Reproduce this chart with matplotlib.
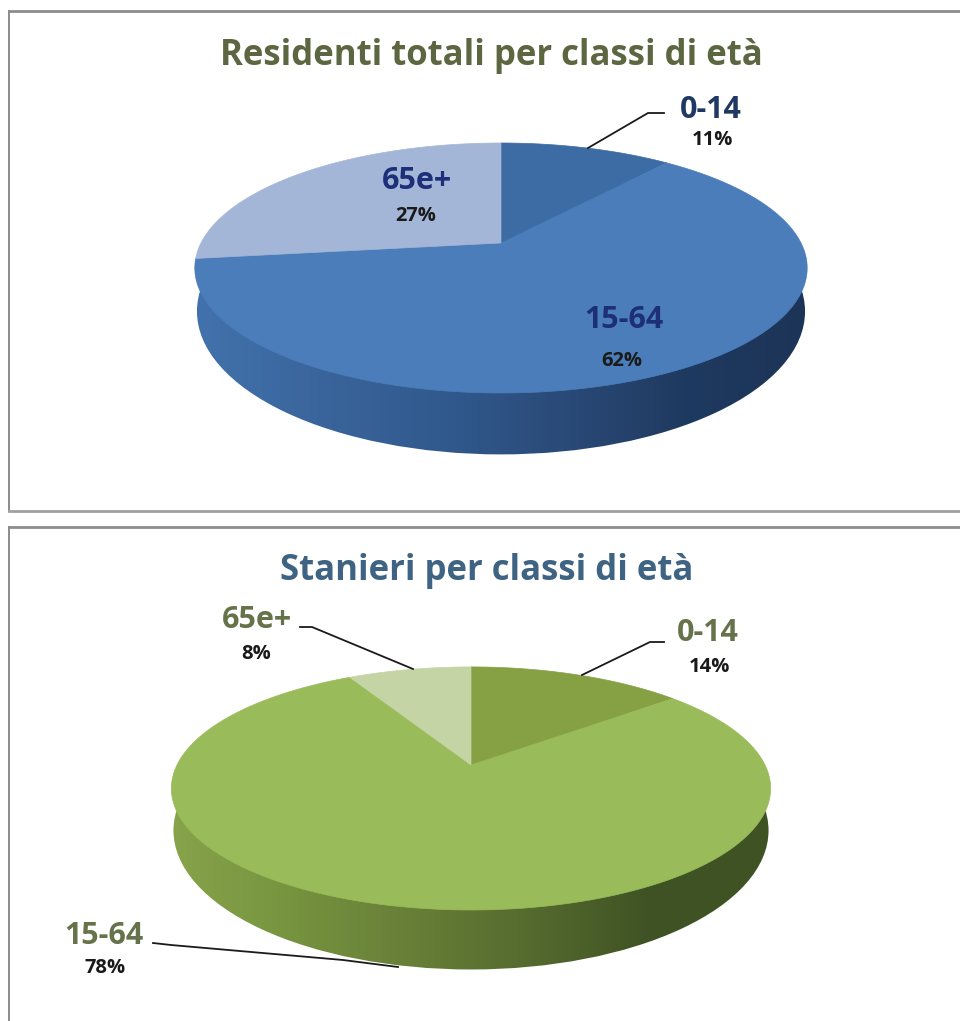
import numpy as np
import matplotlib
matplotlib.use("Agg")
import matplotlib.pyplot as plt
from matplotlib.colors import LinearSegmentedColormap
from matplotlib.patches import Ellipse

plt.rcParams['font.family'] = ['Open Sans', 'DejaVu Sans']

classes = ["0-14", "15-64", "65e+"]
residenti = [11, 62, 27]
stranieri = [14, 78, 8]
titolo1 = "Residenti totali per classi di età"
titolo2 = "Stanieri per classi di età"

W, H = 960, 1021
fig = plt.figure(figsize=(W / 100, H / 100), dpi=100)
ax = fig.add_axes([0, 0, 1, 1])
ax.set_xlim(0, W)
ax.set_ylim(H, 0)
ax.axis("off")


# disc seen in perspective, y up in unit circle
def rim(t, cx, cy, b, a, k):
    s, c = np.sin(t), np.cos(t)
    return cx + b * s / (1 + k * c), cy - a * c / (1 + k * c)


def pie3d(values, cx, cy, b, a, k, depth, colors, side):
    t = np.linspace(0, 2 * np.pi, 721)
    x, y = rim(t, cx, cy, b, a, k)
    # lower edge of the disc is a slightly narrower, taller ellipse
    half_w = (x.max() - x.min()) / 2
    half_h = (y.max() - y.min()) / 2
    yc = (y.max() + y.min()) / 2
    low = Ellipse((cx, yc + 0.7 * depth), 2 * half_w * 0.993, 2 * half_h * 1.144, fc="none", ec="none")
    ax.add_patch(low)
    cmap = LinearSegmentedColormap.from_list("side", side)
    grad = np.linspace(0, 1, 256).reshape(1, -1)
    im = ax.imshow(grad, cmap=cmap, extent=[x.min(), x.max(), y.max() + depth + 2, y.min()],
                   aspect="auto", zorder=2)
    im.set_clip_path(low)
    ax.set_xlim(0, W)
    ax.set_ylim(H, 0)
    # top face
    edges = np.cumsum([0] + list(values)) / sum(values) * 2 * np.pi
    for n in range(len(values)):
        tt = np.linspace(edges[n], edges[n + 1], 200)
        px, py = rim(tt, cx, cy, b, a, k)
        ax.fill(np.r_[cx, px], np.r_[cy, py], color=colors[n], lw=0.5, zorder=3)


def label(x, y, s, size, color):
    ax.text(x, y, s, fontsize=size, color=color, fontweight="bold", ha="center", va="center", zorder=5)


def frame(x0, y0, x1, y1):
    ax.plot([x0, x0], [y1, y0], color="#8c8c8c", lw=1.4, zorder=1)
    ax.plot([x0, x1], [y0, y0], color="#8c8c8c", lw=2, zorder=1)


# panels
frame(8.5, 11, 960, 511)
ax.plot([8.5, 960], [511, 511], color="#a0a0a0", lw=2, zorder=1)
frame(8.5, 527, 960, 1021)

# top chart
pie3d(residenti, 501, 243, 300, 120, 0.2, 62,
      ["#3C6CA3", "#4A7DB9", "#A4B6D8"],
      ["#4272AC", "#3A659C", "#315A8E", "#2A4A78", "#1F3A60", "#1C3457"])
label(491, 56, titolo1, 25, "#5C6640")
label(711, 110, classes[0], 22, "#1F3864")
label(712, 140, "%d%%" % residenti[0], 14.5, "#1a1a1a")
label(624, 320, classes[1], 22, "#1C2F78")
label(622, 361, "%d%%" % residenti[1], 14.5, "#1a1a1a")
label(417, 181, classes[2], 22, "#1C2F78")
label(416, 216, "%d%%" % residenti[2], 14.5, "#1a1a1a")
ax.plot([588, 648, 664], [148, 113, 113], color="#1a1a1a", lw=1.3, zorder=4)

# bottom chart
pie3d(stranieri, 471, 765, 294, 117, 0.193, 60,
      ["#86A044", "#9ABB59", "#C5D4A5"],
      ["#87A44B", "#76933F", "#677F37", "#556A2E", "#3F5224", "#3F5324"])
label(487, 571, titolo2, 25, "#3F6382")
label(708, 633, classes[0], 22, "#66724A")
label(709, 667, "%d%%" % stranieri[0], 14.5, "#1a1a1a")
label(104, 936, classes[1], 22, "#66724A")
label(105, 968, "%d%%" % stranieri[1], 14.5, "#1a1a1a")
label(257, 620, classes[2], 22, "#66724A")
label(256, 654, "%d%%" % stranieri[2], 14.5, "#1a1a1a")
ax.plot([300, 312, 413], [627, 627, 669], color="#1a1a1a", lw=1.3, zorder=4)
ax.plot([582, 650, 664], [675, 642, 642], color="#1a1a1a", lw=1.3, zorder=4)
ax.plot([153, 171, 343, 398], [943, 945, 960, 967], color="#1a1a1a", lw=1.3, zorder=4)

fig.savefig("out.png", dpi=100)
